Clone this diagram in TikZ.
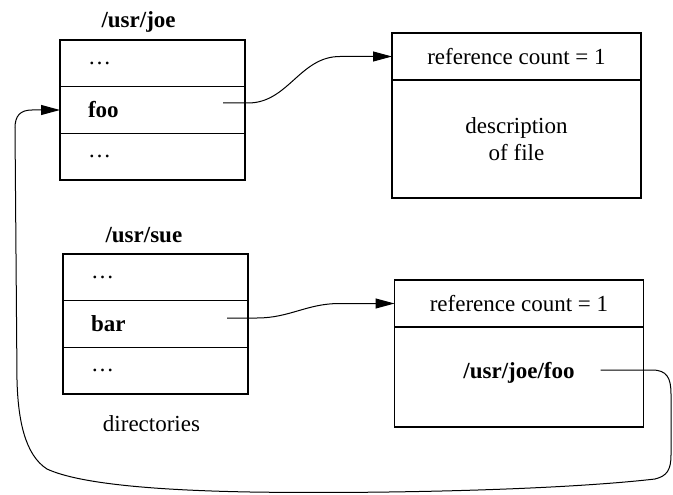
\documentclass[tikz,border=0pt]{standalone}
\usepackage{fontspec}
\setmainfont{Liberation Serif}
\usetikzlibrary{positioning,arrows.meta}

\begin{document}
\begin{tikzpicture}[x=1pt, y=-1pt,
    txt/.style={font=\fontsize{23}{27}\selectfont},
    dirrow/.style={txt, draw, line width=1.2pt, outer sep=0pt, inner xsep=28pt,
      text width=129pt, minimum height=46.7pt, align=left},
    filehead/.style={txt, draw, line width=1.2pt, outer sep=0pt,
      minimum width=249pt, minimum height=47pt},
    filebody/.style={txt, draw, line width=1.2pt, outer sep=0pt,
      minimum width=249pt, align=center},
    link/.style={line width=1pt, -{Triangle[length=19pt,width=10pt]}}]
  \useasboundingbox (0,0) rectangle (673,495);

  % Directory /usr/joe
  \node[dirrow] (joe1) at (152.5,63.3) {\dots};
  \node[dirrow, below=0pt of joe1] (joefoo) {\textbf{foo}};
  \node[dirrow, below=0pt of joefoo] (joe3) {\dots};
  \node[txt, anchor=base west] (joetitle) at ([xshift=38pt,yshift=12pt]joe1.north west) {\textbf{/usr/joe}};

  % Directory /usr/sue
  \node[dirrow] (sue1) at (155.5,277.3) {\dots};
  \node[dirrow, below=0pt of sue1] (suebar) {\textbf{bar}};
  \node[dirrow, below=0pt of suebar] (sue3) {\dots};
  \node[txt, anchor=base west] (suetitle) at ([xshift=39pt,yshift=11pt]sue1.north west) {\textbf{/usr/sue}};
  \node[txt, anchor=base] (dirs) at ([xshift=-4pt,yshift=-37pt]sue3.south) {directories};

  % File of foo
  \node[filehead] (head1) at (516.5,56.5) {reference count = 1};
  \node[filebody, below=0pt of head1, minimum height=118pt] (body1) {description\\of file};

  % Symbolic link bar
  \node[filehead] (head2) at (519,303.5) {reference count = 1};
  \node[filebody, below=0pt of head2, minimum height=100pt, text depth=14pt] (body2) {\textbf{/usr/joe/foo}};

  % Pointers
  \coordinate (foostart) at ([xshift=-22pt,yshift=7pt]joefoo.east);
  \coordinate (barstart) at ([xshift=-21pt,yshift=6pt]suebar.east);
  \coordinate (pathstart) at ([xshift=-43pt,yshift=7pt]body2.east);

  \draw[link] (foostart) -- ++(25,0) to[out=0,in=180] ([xshift=-52pt]head1.west) -- (head1.west);
  \draw[link] (barstart) -- ++(30,0) to[out=0,in=180] ([xshift=-55pt]head2.west) -- (head2.west);

  % Path back to /usr/joe/foo
  \draw[link] (pathstart) -- (652,370) .. controls (667,370) and (671,378) .. (671,394)
    -- (671,455) .. controls (671,470) and (667,476) .. (655,479)
    .. controls (560,490) and (380,494) .. (250,492)
    .. controls (140,490) and (75,482) .. (47,469)
    .. controls (25,455) and (18,420) .. (17,380)
    -- (15,128) .. controls (15,116) and (20,110) .. (32,110) -- (joefoo.west);
\end{tikzpicture}
\end{document}
